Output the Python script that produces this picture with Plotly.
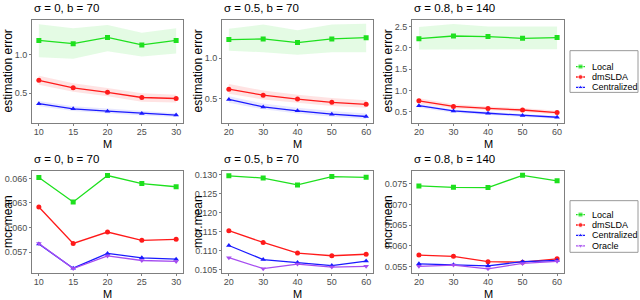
import plotly.graph_objects as go

# ---------------- data ----------------
M_A = [10, 15, 20, 25, 30]
M_B = [20, 30, 40, 50, 60]

series_top = ["Local", "dmSLDA", "Centralized"]
series_bot = ["Local", "dmSLDA", "Centralized", "Oracle"]

# estimation error, sigma=0, b=70
e1_local = [1.19, 1.148, 1.229, 1.131, 1.19]
e1_local_hi = [1.40, 1.35, 1.39, 1.29, 1.35]
e1_local_lo = [0.97, 0.95, 1.05, 0.98, 1.02]
e1_dm = [0.67, 0.572, 0.513, 0.445, 0.432]
e1_dm_hi = [0.73, 0.63, 0.57, 0.50, 0.48]
e1_dm_lo = [0.61, 0.52, 0.46, 0.39, 0.38]
e1_cen = [0.364, 0.297, 0.267, 0.237, 0.216]
e1_cen_hi = [0.40, 0.33, 0.30, 0.27, 0.24]
e1_cen_lo = [0.33, 0.27, 0.24, 0.21, 0.19]

# estimation error, sigma=0.5, b=70
e2_local = [1.226, 1.234, 1.19, 1.234, 1.25]
e2_local_hi = [1.36, 1.41, 1.34, 1.41, 1.42]
e2_local_lo = [1.09, 1.07, 1.04, 1.07, 1.07]
e2_dm = [0.617, 0.544, 0.496, 0.456, 0.431]
e2_dm_hi = [0.68, 0.60, 0.55, 0.51, 0.48]
e2_dm_lo = [0.56, 0.49, 0.45, 0.41, 0.39]
e2_cen = [0.492, 0.399, 0.351, 0.31, 0.282]
e2_cen_hi = [0.53, 0.44, 0.39, 0.35, 0.32]
e2_cen_lo = [0.45, 0.37, 0.32, 0.28, 0.25]

# estimation error, sigma=0.8, b=140
e3_local = [2.216, 2.278, 2.263, 2.224, 2.24]
e3_local_hi = [2.49, 2.56, 2.50, 2.50, 2.50]
e3_local_lo = [1.96, 1.97, 1.97, 1.97, 1.97]
e3_dm = [0.76, 0.63, 0.583, 0.545, 0.485]
e3_dm_hi = [0.82, 0.68, 0.63, 0.59, 0.53]
e3_dm_lo = [0.70, 0.58, 0.54, 0.50, 0.44]
e3_cen = [0.647, 0.523, 0.469, 0.415, 0.376]
e3_cen_hi = [0.69, 0.56, 0.51, 0.45, 0.41]
e3_cen_lo = [0.60, 0.48, 0.43, 0.38, 0.34]

# mcr.mean
m1_local = [0.06612, 0.06312, 0.06635, 0.06537, 0.06498]
m1_dm = [0.0625, 0.05806, 0.05945, 0.05844, 0.05856]
m1_cen = [0.05798, 0.05504, 0.05684, 0.0563, 0.05614]
m1_ora = [0.05806, 0.0550, 0.05653, 0.05598, 0.05587]

m2_local = [0.1297, 0.1291, 0.1273, 0.1295, 0.1293]
m2_dm = [0.1152, 0.1121, 0.1093, 0.1086, 0.1090]
m2_cen = [0.1113, 0.1076, 0.1068, 0.1060, 0.1072]
m2_ora = [0.1081, 0.1052, 0.1064, 0.1056, 0.1058]

m3_local = [0.07446, 0.07414, 0.07407, 0.07702, 0.0757]
m3_dm = [0.0578, 0.0575, 0.0562, 0.0561, 0.0569]
m3_cen = [0.0557, 0.0555, 0.0552, 0.0562, 0.0565]
m3_ora = [0.0551, 0.0554, 0.0545, 0.0558, 0.0563]

titles = ["σ = 0, b = 70", "σ = 0.5, b = 70", "σ = 0.8, b = 140"] * 2

# ---------------- styles ----------------
COL = {"Local": "#1EE01E", "dmSLDA": "#FF1A1A", "Centralized": "#1A1AFF", "Oracle": "#A64DF0"}
FILL = {"Local": "rgba(30,224,30,0.12)", "dmSLDA": "rgba(255,26,26,0.12)",
        "Centralized": "rgba(26,26,255,0.10)"}
SYM = {"Local": "square", "dmSLDA": "circle", "Centralized": "triangle-up", "Oracle": "triangle-down"}
FONT = "Liberation Sans, Arial, sans-serif"
W, H = 640, 300

px_x = [(32, 183), (222, 373), (412, 564)]
px_y = [(19, 123), (171, 274)]

fig = go.Figure()


def add_line(idx, x, y, name):
    ax = "" if idx == 1 else str(idx)
    fig.add_trace(go.Scatter(x=x, y=y, mode="lines+markers", name=name,
                             line=dict(color=COL[name], width=1.3),
                             marker=dict(symbol=SYM[name], size=5, color=COL[name]),
                             xaxis="x" + ax, yaxis="y" + ax, showlegend=False))


def add_band(idx, x, lo, hi, name):
    ax = "" if idx == 1 else str(idx)
    fig.add_trace(go.Scatter(x=list(x) + list(x)[::-1], y=list(hi) + list(lo)[::-1],
                             mode="lines", fill="toself", fillcolor=FILL[name],
                             line=dict(width=0), hoverinfo="skip",
                             xaxis="x" + ax, yaxis="y" + ax, showlegend=False))


top = [
    (M_A, [(e1_local, e1_local_lo, e1_local_hi), (e1_dm, e1_dm_lo, e1_dm_hi), (e1_cen, e1_cen_lo, e1_cen_hi)]),
    (M_B, [(e2_local, e2_local_lo, e2_local_hi), (e2_dm, e2_dm_lo, e2_dm_hi), (e2_cen, e2_cen_lo, e2_cen_hi)]),
    (M_B, [(e3_local, e3_local_lo, e3_local_hi), (e3_dm, e3_dm_lo, e3_dm_hi), (e3_cen, e3_cen_lo, e3_cen_hi)]),
]
for i, (mx, sets) in enumerate(top):
    for name, (v, lo, hi) in zip(series_top, sets):
        add_band(i + 1, mx, lo, hi, name)
    for name, (v, lo, hi) in zip(series_top, sets):
        add_line(i + 1, mx, v, name)

bot = [
    (M_A, [m1_local, m1_dm, m1_cen, m1_ora]),
    (M_B, [m2_local, m2_dm, m2_cen, m2_ora]),
    (M_B, [m3_local, m3_dm, m3_cen, m3_ora]),
]
for i, (mx, sets) in enumerate(bot):
    for name, v in zip(series_bot, sets):
        add_line(i + 4, mx, v, name)

yranges = [[0.11, 1.458], [0.2, 1.468], [0.237, 2.655],
           [0.05443, 0.06692], [0.104, 0.131], [0.05344, 0.0781]]
yticks = [[0.5, 1.0], [0.5, 1.0], [0.5, 1.0, 1.5, 2.0, 2.5],
          [0.057, 0.060, 0.063, 0.066],
          [0.105, 0.110, 0.115, 0.120, 0.125, 0.130],
          [0.055, 0.060, 0.065, 0.070, 0.075]]
ylabels = ["estimation error"] * 3 + ["mcr.mean"] * 3

annotations = []
shapes = []
layout = {}
for k in range(6):
    r, c = divmod(k, 3)
    ax = "" if k == 0 else str(k + 1)
    x0, x1 = px_x[c]
    y0, y1 = px_y[r]
    mx = M_A if c == 0 else M_B
    xr = [9, 31] if c == 0 else [18, 62]
    axis_common = dict(showgrid=False, zeroline=False, showline=True, mirror=True,
                       linecolor="#7F7F7F", linewidth=1, ticks="outside", ticklen=2,
                       tickcolor="#7F7F7F", tickfont=dict(family=FONT, size=9, color="#4D4D4D"))
    layout["xaxis" + ax] = dict(domain=[x0 / W, x1 / W], range=xr, tickvals=mx,
                                anchor="y" + ax, ticklabelstandoff=-2, **axis_common)
    layout["yaxis" + ax] = dict(domain=[1 - y1 / H, 1 - y0 / H], range=yranges[k],
                                tickvals=yticks[k], tickformat=".1f" if r == 0 else ".3f",
                                anchor="x" + ax, **axis_common)
    annotations.append(dict(text=titles[k], x=x0 / W, y=1 - (y0 - 12) / H, xref="paper", yref="paper",
                            xanchor="left", yanchor="middle", showarrow=False,
                            font=dict(family=FONT, size=11.5, color="black")))
    annotations.append(dict(text="M", x=(x0 + x1) / 2 / W, y=1 - (y1 + 20.5) / H, xref="paper", yref="paper",
                            xanchor="center", yanchor="middle", showarrow=False,
                            font=dict(family=FONT, size=11, color="black")))
    annotations.append(dict(text=ylabels[k], x=(x0 - 24) / W, y=1 - (y0 + y1) / 2 / H,
                            xref="paper", yref="paper", xanchor="center", yanchor="middle",
                            textangle=-90, showarrow=False,
                            font=dict(family=FONT, size=12, color="black")))

# ---------------- legends (drawn on helper axes) ----------------
legends = [(series_top, 7, (50, 92), 66), (series_bot, 8, (201, 253), 215)]
for names, n, (ly0, ly1), first in legends:
    ax = str(n)
    lx0, lx1 = 570, 638
    layout["xaxis" + ax] = dict(domain=[lx0 / W, lx1 / W], range=[lx0, lx1], visible=False, fixedrange=True)
    layout["yaxis" + ax] = dict(domain=[1 - ly1 / H, 1 - ly0 / H], range=[ly1, ly0], visible=False,
                                fixedrange=True, anchor="x" + ax)
    shapes.append(dict(type="rect", xref="paper", yref="paper", x0=lx0 / W, x1=lx1 / W,
                       y0=1 - ly1 / H, y1=1 - ly0 / H, line=dict(color="#9A9A9A", width=1)))
    for j, name in enumerate(names):
        yy = first + 10.5 * j
        fig.add_trace(go.Scatter(x=[576, 580.5, 585], y=[yy, yy, yy], mode="lines+markers",
                                 line=dict(color=COL[name], width=1.3),
                                 marker=dict(symbol=SYM[name], size=[0, 5, 0], color=COL[name]),
                                 xaxis="x" + ax, yaxis="y" + ax, showlegend=False, hoverinfo="skip"))
        annotations.append(dict(text=name, x=590, y=yy, xref="x" + ax, yref="y" + ax,
                                xanchor="left", yanchor="middle", showarrow=False,
                                font=dict(family=FONT, size=9, color="black")))

fig.update_layout(width=W, height=H, margin=dict(l=0, r=0, t=0, b=0),
                  plot_bgcolor="white", paper_bgcolor="white",
                  annotations=annotations, shapes=shapes, showlegend=False, **layout)

fig.write_html("out.html", config={"displayModeBar": False},
               post_script="document.body.style.margin='0';document.body.style.padding='0';")
